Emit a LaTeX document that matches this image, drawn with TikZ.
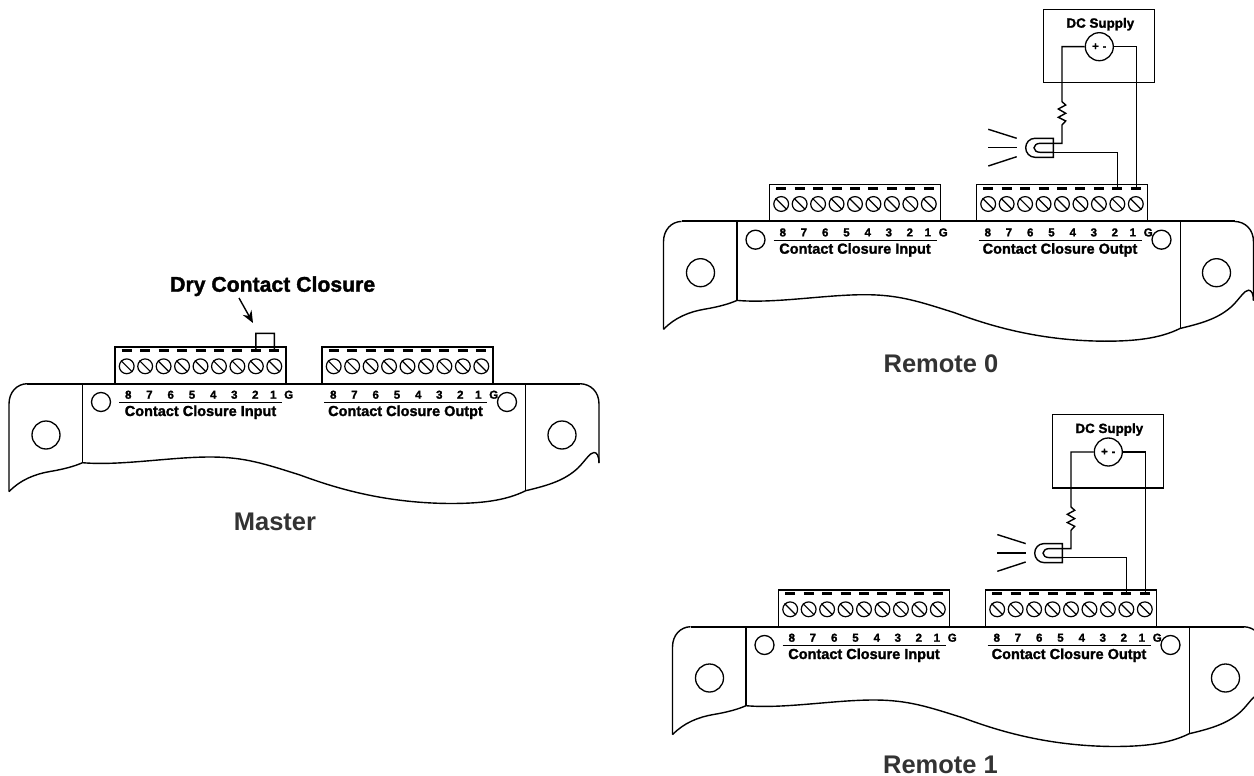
\documentclass[tikz,border=0pt]{standalone}
\usepackage{fontspec}
\setmainfont{Liberation Sans}
\newfontfamily\hvy{Liberation Sans}[BoldFeatures={FakeBold=1.6}]
\usetikzlibrary{arrows.meta}
\definecolor{titlegray}{HTML}{333333}
\tikzset{
  wire/.style={line width=1.4pt, line join=miter},
  outline/.style={line width=1.4pt},
  topedge/.style={line width=2pt},
  slotdash/.style={line width=2.8pt},
  screw/.style={circle, draw, line width=1.2pt, minimum size=14.8pt, inner sep=0pt},
  hole/.style={circle, draw, line width=1.3pt, inner sep=0pt},
  digitlabel/.style={font=\hvy\bfseries\fontsize{11.5}{12}\selectfont, inner sep=0pt, anchor=base},
  portlabel/.style={font=\hvy\bfseries\fontsize{14.5}{15}\selectfont, inner sep=0pt, anchor=base},
  titlelabel/.style={font=\bfseries\fontsize{25.5}{27}\selectfont, text=titlegray, inner sep=0pt, anchor=base},
}
\newcommand{\termblock}[3]{% prefix, left x, screw x0
  \draw[outline] (#2,384) -- (#2,347) -- (#2+171,347) -- (#2+171,384);
  \foreach \i in {0,...,8}{
    \node[screw] (#1s\i) at (#3+18.45*\i,366.3) {};
    \draw[line width=1.2pt] (#1s\i.135) -- (#1s\i.-45);
    \coordinate (#1t\i) at (#3+18.45*\i,350.7);
    \draw[slotdash] (#3+18.45*\i-5,350.7) -- (#3+18.45*\i+5,350.7);
  }
}
\newcommand{\portlabels}[3]{% prefix, dx, text
  \foreach \x/\t in {128.3/8,149.3/7,170.7/6,192/5,213.3/4,234.3/3,255.3/2,273.3/1,288.7/G}{
    \node[digitlabel] (#1d\t) at (\x+#2,398.7) {\t};
  }
  \draw[line width=1.1pt] (119+#2,402.6) -- (282+#2,402.6);
  \node[portlabel] (#1name) at (200.5+#2,416) {#3};
}
\newcommand{\devicebody}[1]{%
  \draw[topedge] (27,383.7) -- (580,383.7);
  \draw[outline] (9,491.7) -- (9,404) .. controls (9,392) and (17,384) .. (27,383.7);
  \draw[outline] (599,463) -- (599,404) .. controls (599,392) and (591,384) .. (580,383.7);
  \draw[outline] (82.5,383.7) -- (82.5,462.7);
  \draw[outline] (525.7,383.7) -- (525.7,490.7);
  \draw[outline] (9,491.7) .. controls (20,480) and (35,474) .. (50,471.5)
    .. controls (65,469) and (75,466) .. (82.5,462.7)
    .. controls (120,466) and (170,457) .. (210,457)
    .. controls (245,457) and (265,464) .. (300,475)
    .. controls (330,486) and (380,503) .. (450,503.5)
    .. controls (480,503.5) and (505,501) .. (525.7,490.7)
    .. controls (550,485) and (565,480) .. (578,468)
    .. controls (585,461) and (590,452.5) .. (594,452.5)
    .. controls (597,452.5) and (599,456) .. (599,463);
  \node[hole,minimum size=19pt] (#1h1) at (101,402) {};
  \node[hole,minimum size=28pt] (#1h2) at (46,435) {};
  \node[hole,minimum size=19pt] (#1h3) at (507,402) {};
  \node[hole,minimum size=28pt] (#1h4) at (562,435) {};
  \termblock{#1i}{115}{126.7}
  \termblock{#1o}{322}{333.7}
  \portlabels{#1i}{0}{Contact Closure Input}
  \portlabels{#1o}{205}{Contact Closure Outpt}
}
\newcommand{\supplycircuit}[1]{%
  \draw[outline] (389.2,171.6) rectangle (500.2,245);
  \node[font=\hvy\bfseries\fontsize{13.4}{14}\selectfont, inner sep=0pt, anchor=base] (#1dclabel) at (445.8,190) {DC Supply};
  \node[hole,minimum size=28pt,font=\hvy\bfseries\fontsize{11}{11}\selectfont] (#1psu) at (444.8,209) {+\hspace{4pt}-};
  \coordinate (#1ra) at (407.5,264);
  \coordinate (#1rb) at (407.5,287.3);
  \coordinate (#1la) at (398.8,305.6);
  \coordinate (#1lb) at (398.8,314.6);
  \draw[wire] (#1psu.west) -- (#1ra |- #1psu.west) -- (#1ra)
    -- (411.2,267.3) -- (403.8,271.3) -- (411.2,275.6) -- (403.8,279.6) -- (411.2,283.3) -- (#1rb)
    -- (#1rb |- #1la) -- (#1la);
  \draw[wire] (#1lb) -| (#1ot7);
  \draw[wire] (#1psu.east) -| ([xshift=.4pt]#1ot8);
  \draw[outline] (398.8,300.6) -- (398.8,319.6) -- (380.5,319.6)
    .. controls (375,319.6) and (371.2,315) .. (371.2,310.1)
    .. controls (371.2,305) and (375,300.6) .. (380.5,300.6) -- cycle;
  \draw[outline] (398.8,305.6) -- (385.5,305.6) .. controls (382,305.6) and (379.5,308) .. (379.5,310.1)
    .. controls (379.5,312.5) and (382,314.6) .. (385.5,314.6) -- (398.8,314.6);
  \draw[outline] (333.8,291.6) -- (362.2,300.6);
  \draw[outline] (333.8,310) -- (362.2,310);
  \draw[outline] (333.8,328.3) -- (362.2,319);
}
\begin{document}
\begin{tikzpicture}[x=1pt,y=-1pt]
  \useasboundingbox (0,0) rectangle (1254,776);
  \clip (0,0) rectangle (1254,776);
  % Master
  \begin{scope}
    \devicebody{m}
    \node[font=\hvy\bfseries\fontsize{21.2}{22}\selectfont, inner sep=0pt, anchor=base] (dry) at (272.7,291.7) {Dry Contact Closure};
    \coordinate (arrowstart) at (239,298);
    \coordinate (arrowend) at (253,323);
    \draw[line width=1.4pt,-{Stealth[length=12pt,width=10pt]}] (arrowstart) -- (arrowend);
    \coordinate (jl) at (255.85,333.3);
    \coordinate (jr) at (274.3,333.3);
    \draw[wire] (mit7) -- (jl) -- (jr) -- (mit8);
    \node[titlelabel] (master) at (275,530) {Master};
  \end{scope}
  % Remote 0
  \begin{scope}[shift={(654.5,-162.3)}]
    \devicebody{a}
    \supplycircuit{a}
  \end{scope}
  \node[titlelabel] (remote0) at (941,372.7) {Remote 0};
  % Remote 1
  \begin{scope}[shift={(663.5,243)}]
    \devicebody{b}
    \supplycircuit{b}
  \end{scope}
  \node[titlelabel] (remote1) at (940.5,773) {Remote 1};
\end{tikzpicture}
\end{document}
